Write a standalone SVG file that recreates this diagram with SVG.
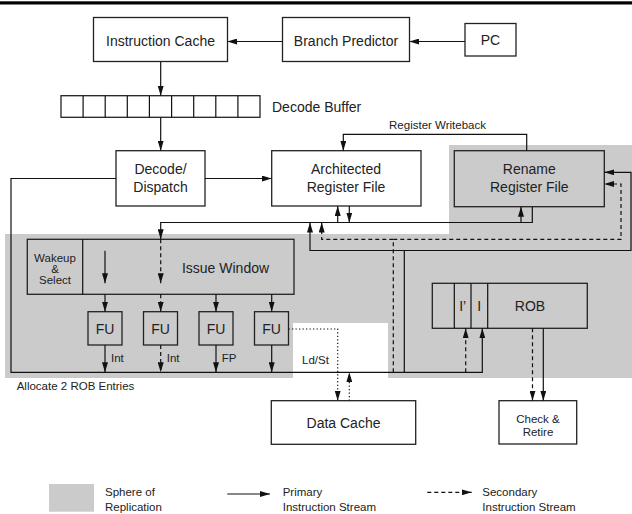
<svg xmlns="http://www.w3.org/2000/svg" width="632" height="514" viewBox="0 0 632 514">
<style>
.box{fill:#fff;stroke:#222;stroke-width:1.3}
.gbox{fill:#cbcbcb;stroke:#222;stroke-width:1.3}
.t{font-family:"Liberation Sans",Arial,sans-serif;font-size:14px;fill:#222;text-anchor:middle;dominant-baseline:central}
.s{font-family:"Liberation Sans",Arial,sans-serif;font-size:11.5px;fill:#222;dominant-baseline:central}
.ln{fill:none;stroke:#111;stroke-width:1.2}
.da{stroke-dasharray:4 3}
.dt{stroke-dasharray:1.3 2.2}
.arr{marker-end:url(#ah)}
</style>
<defs>
<marker id="ah" viewBox="0 0 10 6" refX="10" refY="3" markerWidth="10" markerHeight="6" markerUnits="userSpaceOnUse" orient="auto"><path d="M0,0 L10,3 L0,6 z" fill="#111"/></marker>
</defs>
<rect x="0" y="1.3" width="632" height="3.2" fill="#000"/>
<polygon id="sphere" points="449,145 632,145 632,378 388,378 388,323 293,323 293,378 5,378 5,234 449,234" fill="#cbcbcb"/>

<g id="icache"><rect class="box" x="93.5" y="17.5" width="134" height="44"/><text class="t" x="160.5" y="41">Instruction Cache</text></g>
<g id="bpred"><rect class="box" x="282.5" y="17.5" width="127" height="44"/><text class="t" x="346" y="41">Branch Predictor</text></g>
<g id="pc"><rect class="box" x="465" y="23.5" width="51" height="32.5"/><text class="t" x="490.5" y="40">PC</text></g>
<g id="decodebuffer">
<rect class="box" x="61" y="95.7" width="199" height="21.6"/>
<path class="ln" d="M83.1,95.7V117.3M105.2,95.7V117.3M127.3,95.7V117.3M149.4,95.7V117.3M171.6,95.7V117.3M193.7,95.7V117.3M215.8,95.7V117.3M237.9,95.7V117.3"/>
<text class="t" x="272" y="106.5" style="text-anchor:start">Decode Buffer</text>
</g>
<g id="decode"><rect class="box" x="116" y="150.7" width="89" height="55.3"/><text class="t" x="160.5" y="168.5">Decode/</text><text class="t" x="160.5" y="186.5">Dispatch</text></g>
<g id="arf"><rect class="box" x="271.7" y="150.7" width="149.3" height="55.3"/><text class="t" x="346" y="168.5">Architected</text><text class="t" x="346" y="186.5">Register File</text></g>
<g id="rrf"><rect class="gbox" x="454.3" y="150.7" width="150" height="56"/><text class="t" x="529.3" y="168.5">Rename</text><text class="t" x="529.3" y="186.5">Register File</text></g>
<g id="issue">
<rect class="box" x="27.3" y="239.3" width="266.7" height="55" style="fill:none"/>
<line class="ln" x1="82.7" y1="239.3" x2="82.7" y2="294.3"/>
<text class="s" x="55" y="257.5" text-anchor="middle">Wakeup</text>
<text class="s" x="55" y="268.5" text-anchor="middle">&amp;</text>
<text class="s" x="55" y="280" text-anchor="middle">Select</text>
<text class="t" x="225.5" y="268.3">Issue Window</text>
</g>
<g id="fu1"><rect class="box" x="88" y="311.7" width="34" height="33.3" style="fill:none"/><text class="t" x="105" y="328.5">FU</text></g>
<g id="fu2"><rect class="box" x="143.5" y="311.7" width="34" height="33.3" style="fill:none"/><text class="t" x="160.5" y="328.5">FU</text></g>
<g id="fu3"><rect class="box" x="199" y="311.7" width="34" height="33.3" style="fill:none"/><text class="t" x="216" y="328.5">FU</text></g>
<g id="fu4"><rect class="box" x="254.5" y="311.7" width="34" height="33.3" style="fill:none"/><text class="t" x="271.5" y="328.5">FU</text></g>
<g id="rob">
<rect class="box" x="432.3" y="283.3" width="155" height="45" style="fill:none"/>
<path class="ln" d="M454.3,283.3V328.3M471,283.3V328.3M487.7,283.3V328.3"/>
<text class="t" x="462.7" y="306">I’</text>
<text class="t" x="479.3" y="306">I</text>
<text class="t" x="530" y="306">ROB</text>
</g>
<g id="dcache"><rect class="box" x="271.3" y="400.7" width="144.4" height="43.6"/><text class="t" x="343.5" y="422.5">Data Cache</text></g>
<g id="retire"><rect class="box" x="499" y="400.7" width="77.7" height="43.3"/><text class="s" x="538" y="418.5" text-anchor="middle" style="font-size:11.5px">Check &amp;</text><text class="s" x="538" y="431.5" text-anchor="middle" style="font-size:11.5px">Retire</text></g>

<g id="connectors">
<line class="ln arr" x1="465" y1="41.5" x2="409.3" y2="41.5"/>
<line class="ln arr" x1="282.5" y1="41.5" x2="227.3" y2="41.5"/>
<line class="ln arr" x1="160.7" y1="61.7" x2="160.7" y2="95.7"/>
<line class="ln arr" x1="160.7" y1="117.3" x2="160.7" y2="150.7"/>
<line class="ln arr" x1="205" y1="178.5" x2="271.7" y2="178.5"/>
<polyline class="ln arr" points="526.7,150.7 526.7,134.3 343.3,134.3 343.3,150.7"/>
<polyline class="ln arr" points="116,178.5 11,178.5 11,372.3 482.3,372.3 482.3,328.3"/>
<line class="ln da arr" x1="465.7" y1="372.3" x2="465.7" y2="328.3"/>
<polyline class="ln arr" points="532.3,206.7 532.3,222.5 160.7,222.5 160.7,239.3"/>
<line class="ln arr" x1="337.7" y1="222.5" x2="337.7" y2="206"/>
<line class="ln arr" x1="349.3" y1="206" x2="349.3" y2="222.5"/>
<line class="ln arr" x1="521" y1="222.5" x2="521" y2="206.7"/>
<polyline class="ln arr" points="404.3,372.3 404.3,250.5 310,250.5 310,222.5"/>
<polyline class="ln arr" points="404.3,250.5 631,250.5 631,172.3 604.3,172.3"/>
<polyline class="ln da arr" points="393.3,372.3 393.3,239.3 321.7,239.3 321.7,222.5"/>
<polyline class="ln da arr" points="393.3,239.3 621,239.3 621,184 604.3,184"/>
<line class="ln arr" x1="105" y1="250.7" x2="105" y2="283.3"/>
<line class="ln da arr" x1="160.7" y1="239.3" x2="160.7" y2="283.3"/>
<line class="ln arr" x1="105" y1="294.3" x2="105" y2="311.7"/>
<line class="ln da arr" x1="160.7" y1="294.3" x2="160.7" y2="311.7"/>
<line class="ln arr" x1="216" y1="294.3" x2="216" y2="311.7"/>
<line class="ln arr" x1="271.7" y1="294.3" x2="271.7" y2="311.7"/>
<line class="ln arr" x1="105" y1="345" x2="105" y2="372.3"/>
<line class="ln da arr" x1="160.7" y1="345" x2="160.7" y2="372.3"/>
<line class="ln arr" x1="216" y1="345" x2="216" y2="372.3"/>
<line class="ln arr" x1="271.7" y1="345" x2="271.7" y2="372.3"/>
<polyline class="ln dt arr" points="288.5,329 337.7,329 337.7,400.7"/>
<line class="ln dt arr" x1="349.3" y1="400.7" x2="349.3" y2="372.3"/>
<line class="ln da arr" x1="532.5" y1="328.3" x2="532.5" y2="400.7"/>
<line class="ln arr" x1="543.3" y1="328.3" x2="543.3" y2="400.7"/>
</g>

<g id="labels">
<text class="s" x="437.5" y="125" text-anchor="middle">Register Writeback</text>
<text class="s" x="111" y="358.3">Int</text>
<text class="s" x="166.7" y="358.3">Int</text>
<text class="s" x="221.7" y="358.3">FP</text>
<text class="s" x="302" y="360">Ld/St</text>
<text class="s" x="16.7" y="386">Allocate 2 ROB Entries</text>
</g>

<g id="legend">
<rect x="49" y="484" width="45" height="27.7" fill="#cbcbcb"/>
<text class="s" x="105" y="492">Sphere of</text>
<text class="s" x="105" y="507">Replication</text>
<line class="ln arr" x1="227.3" y1="494" x2="270" y2="494"/>
<text class="s" x="282.7" y="492">Primary</text>
<text class="s" x="282.7" y="507">Instruction Stream</text>
<line class="ln da arr" x1="427.3" y1="492.3" x2="471.7" y2="492.3"/>
<text class="s" x="482.3" y="492">Secondary</text>
<text class="s" x="482.3" y="507">Instruction Stream</text>
</g>
</svg>
